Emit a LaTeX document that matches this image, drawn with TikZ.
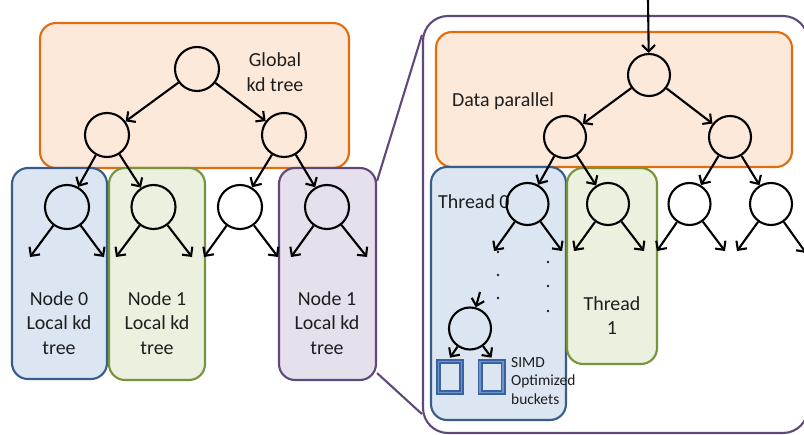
\documentclass[tikz,border=0pt]{standalone}
\usepackage{fontspec}
\setmainfont{Carlito}
\usetikzlibrary{arrows.meta}
\definecolor{orgB}{HTML}{E46C0A}
\definecolor{orgF}{HTML}{FDE9D9}
\definecolor{bluB}{HTML}{385D8A}
\definecolor{bluF}{HTML}{DCE6F2}
\definecolor{grnB}{HTML}{77933C}
\definecolor{grnF}{HTML}{EBF1DE}
\definecolor{purB}{HTML}{5F497A}
\definecolor{purF}{HTML}{E5E0EC}
\definecolor{txt}{HTML}{1E1E1E}
\definecolor{bkB}{HTML}{3A62A0}
\definecolor{bkM}{HTML}{6F96CC}
\begin{document}
\begin{tikzpicture}[x=1bp,y=-1bp,
  circ/.style={circle,draw=black,line width=2.1bp,minimum size=44bp,inner sep=0pt},
  scirc/.style={circ,minimum size=42bp},
  arr/.style={line width=2.1bp,-{Straight Barb[length=6.5bp,width=13bp]}},
  lbl/.style={font=\fontsize{20}{24.5}\selectfont,text=txt,align=center,inner sep=0pt},
  slbl/.style={font=\fontsize{15.5}{18.5}\selectfont,text=txt,align=left,inner sep=0pt},
  box/.style={rectangle,rounded corners=16bp,line width=2.1bp,inner sep=0pt},
  dotn/.style={circle,fill=txt,minimum size=2.8bp,inner sep=0pt},
  bucket/.style={rectangle,draw=bkB,double=bkM,double distance=1.6bp,line width=1.7bp,fill=bluF,minimum width=23bp,minimum height=31bp,inner sep=0pt}]
\useasboundingbox (0,0) rectangle (804,435);
\clip (0,0) rectangle (804,435);

% ---------- left part ----------
\node[box,draw=orgB,fill=orgF,minimum width=309bp,minimum height=145bp] (gbox) at (194.5,95.5) {};
\node[box,draw=bluB,fill=bluF,minimum width=95bp,minimum height=211bp] (lb0) at (59.5,273.5) {};
\node[box,draw=grnB,fill=grnF,minimum width=96bp,minimum height=212bp] (lb1) at (157,274) {};
\node[box,draw=purB,fill=purF,minimum width=97bp,minimum height=212bp] (lb2) at (327.5,274) {};

\node[lbl] (gl) at (275,72) {Global\\kd tree};
\node[lbl] (t0) at (59,323) {Node 0\\Local kd\\tree};
\node[lbl] (t1) at (157,323) {Node 1\\Local kd\\tree};
\node[lbl] (t2) at (327,323) {Node 1\\Local kd\\tree};

\node[circ] (r) at (197,69) {};
\node[circ] (a) at (107,135) {};
\node[circ] (b) at (284,135) {};
\node[circ] (c1) at (67,207) {};
\node[circ] (c2) at (153.5,207) {};
\node[circ] (c3) at (240,207) {};
\node[circ] (c4) at (327,207) {};
\coordinate (e1) at (30,257);
\coordinate (e2) at (104,257);
\coordinate (e3) at (116,257);
\coordinate (e4) at (192,257);
\coordinate (e5) at (204,257);
\coordinate (e6) at (278,257);
\coordinate (e7) at (291,257);
\coordinate (e8) at (367,257);
\draw[arr] (r) -- (a);
\draw[arr] (r) -- (b);
\draw[arr] (a) -- (c1);
\draw[arr] (a) -- (c2);
\draw[arr] (b) -- (c3);
\draw[arr] (b) -- (c4);
\draw[arr] (c1) -- (e1);
\draw[arr] (c1) -- (e2);
\draw[arr] (c2) -- (e3);
\draw[arr] (c2) -- (e4);
\draw[arr] (c3) -- (e5);
\draw[arr] (c3) -- (e6);
\draw[arr] (c4) -- (e7);
\draw[arr] (c4) -- (e8);

% ---------- right part ----------
\node[box,draw=purB,fill=white,rounded corners=25bp,minimum width=385bp,minimum height=417bp] (big) at (615.5,224.5) {};
\draw[purB,line width=2.1bp] ([yshift=-14bp]lb2.north east) -- ([yshift=-20bp]big.north west);
\draw[purB,line width=2.1bp] ([yshift=8bp]lb2.south east) -- ([yshift=20bp]big.south west);

\node[box,draw=orgB,fill=orgF,minimum width=356bp,minimum height=135bp] (dbox) at (614,99.5) {};
\node[box,draw=bluB,fill=bluF,minimum width=135bp,minimum height=253bp] (tb0) at (498.5,293.5) {};
\node[box,draw=grnB,fill=grnF,minimum width=90bp,minimum height=196bp] (tb1) at (612,266) {};

\node[lbl] (dp) at (503,101) {Data parallel};
\node[lbl,anchor=west] (th0) at (438,202) {Thread 0};
\node[lbl] (th1) at (612,315.5) {Thread\\1};
\node[slbl,anchor=west] (simd) at (511,381) {SIMD\\Optimized\\buckets};

\coordinate (top) at (648,0);
\node[scirc] (R) at (649,75) {};
\node[scirc] (A) at (565,137) {};
\node[scirc] (B) at (730,137) {};
\node[scirc] (C1) at (527.5,204) {};
\node[scirc] (C2) at (608,204) {};
\node[scirc] (C3) at (689.5,204) {};
\node[scirc] (C4) at (771,204) {};
\coordinate (f1) at (494,251);
\coordinate (f2) at (562,251);
\coordinate (f3) at (574,251);
\coordinate (f4) at (644,251);
\coordinate (f5) at (657,251);
\coordinate (f6) at (725,251);
\coordinate (f7) at (737,251);
\coordinate (f8) at (806,253);
\draw[arr] (top) -- (R);
\draw[arr] (R) -- (A);
\draw[arr] (R) -- (B);
\draw[arr] (A) -- (C1);
\draw[arr] (A) -- (C2);
\draw[arr] (B) -- (C3);
\draw[arr] (B) -- (C4);
\draw[arr] (C1) -- (f1);
\draw[arr] (C1) -- (f2);
\draw[arr] (C2) -- (f3);
\draw[arr] (C2) -- (f4);
\draw[arr] (C3) -- (f5);
\draw[arr] (C3) -- (f6);
\draw[arr] (C4) -- (f7);
\draw[arr] (C4) -- (f8);

\node[dotn] (d1) at (498,252) {};
\node[dotn] (d2) at (498,275) {};
\node[dotn] (d3) at (498,298) {};
\node[dotn] (d4) at (548,262) {};
\node[dotn] (d5) at (548,286) {};
\node[dotn] (d6) at (548,311) {};

\coordinate (sa) at (480,292);
\node[scirc] (S) at (470,328.5) {};
\draw[arr] (sa) -- (S);
\node[bucket] (k1) at (450,377) {};
\node[bucket] (k2) at (491.5,377) {};
\draw[arr] (S) -- ([yshift=3bp]k1.north);
\draw[arr] (S) -- ([yshift=3bp]k2.north);
\end{tikzpicture}
\end{document}
